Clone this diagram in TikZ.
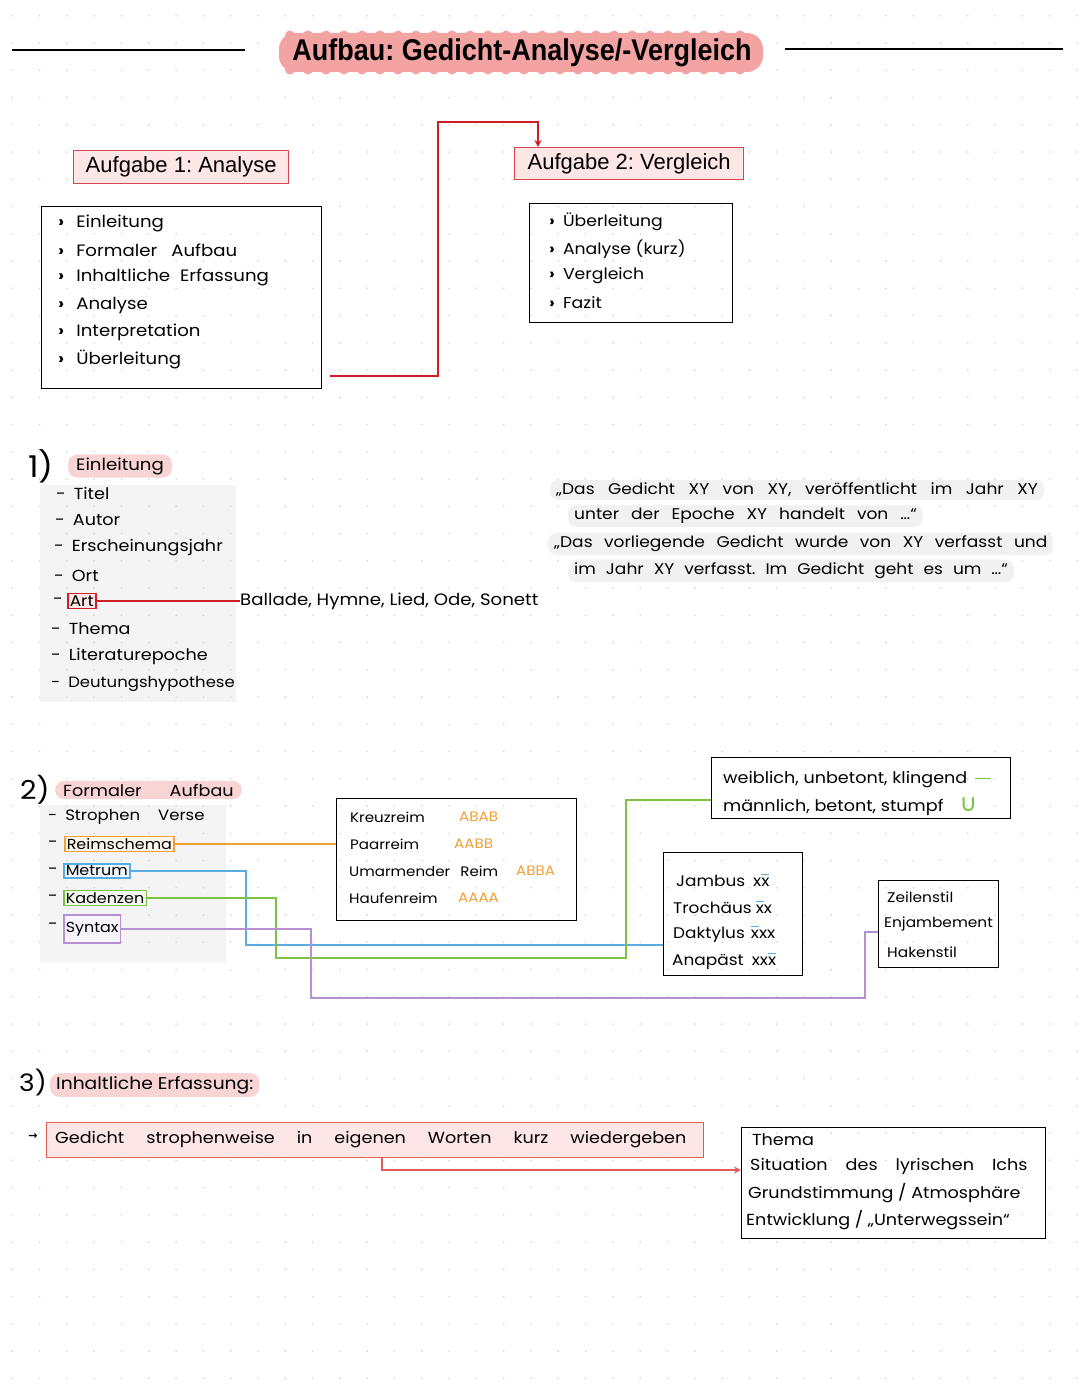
\documentclass[tikz,border=0pt]{standalone}
\usepackage{fontspec}
\setmainfont[FakeStretch=1.1]{Poppins}
\newfontfamily\arial{Liberation Sans}
\newfontfamily\titlefont[FakeStretch=0.9]{Liberation Sans}
\newfontfamily\dejavu{DejaVu Sans}
\usetikzlibrary{arrows.meta}
\frenchspacing
\definecolor{hred}{HTML}{D01E24}
\definecolor{boxred}{HTML}{D64550}
\definecolor{boxpink}{HTML}{FDE6E6}
\definecolor{hlpink}{HTML}{F9D4D4}
\definecolor{titlepink}{HTML}{F4A3A3}
\definecolor{panelgray}{HTML}{F4F4F4}
\definecolor{quotegray}{HTML}{F1F1F1}
\definecolor{corange}{HTML}{F0A136}
\definecolor{cblue}{HTML}{5AABE3}
\definecolor{cgreen}{HTML}{7DC243}
\definecolor{cpurple}{HTML}{B690D3}
\definecolor{salmon}{HTML}{E25A5A}
\definecolor{dotgray}{HTML}{D2D2D2}
\newcommand\hwsize[1]{\fontsize{#1}{#1}\selectfont}
\newcommand\wordsp[1]{\spaceskip #1pt\relax}
\newcommand\sx{\makebox[0pt][l]{\textcolor{cblue}{\rule[0.72em]{0.52em}{1.5pt}}}x}
\tikzset{
  hw/.style={font=\hwsize{16}, anchor=west, inner sep=0pt},
  lbox/.style={draw=black, line width=1.3, anchor=north west, inner sep=0pt},
  aufg/.style={draw=boxred, fill=boxpink, line width=1.3, font=\arial\fontsize{22}{24}\selectfont, inner sep=0pt, anchor=north west},
  hl/.style={fill=hlpink, rounded corners=9, inner xsep=8pt, inner ysep=3pt, anchor=west, font=\hwsize{16.5}},
  qline/.style={fill=quotegray, rounded corners=8, inner xsep=6pt, inner ysep=3pt, anchor=west, font={\hwsize{15.5}\wordsp{12}}},
  cbox/.style={line width=1.5, inner xsep=2pt, inner ysep=2pt, anchor=west, font=\hwsize{14.5}},
  cline/.style={line width=1.8}
}
\begin{document}
\begin{tikzpicture}[x=1pt,y=-1pt]
\useasboundingbox (0,0) rectangle (1080,1394);
\fill[white] (0,0) rectangle (1080,1394);
% panels
\fill[panelgray] (40,485) rectangle (236,702);
\fill[panelgray] (40,805) rectangle (226,962);
% dot grid
\foreach \i in {0,...,39} {\foreach \j in {0,...,50} {\fill[dotgray] ({12.3+27.3*\i},{15.8+27.25*\j}) circle (0.9);}}
% title
\draw[line width=2] (12,50) -- (245,50);
\draw[line width=2] (785,49) -- (1063,49);
\fill[titlepink, rounded corners=16] (279,33) rectangle (763,72);
\foreach \x in {290,308,...,756} {\fill[titlepink] (\x,35.5) circle (5); \fill[titlepink] (\x,69.5) circle (5);}
\node[font=\titlefont\bfseries\fontsize{30}{32}\selectfont, inner sep=0pt] (title) at (522,53) {Aufbau: Gedicht-Analyse/-Vergleich};
% Aufgaben
\node[aufg, minimum width=215, minimum height=33] (a1) at (73,150) {Aufgabe 1: Analyse};
\node[aufg, minimum width=229, minimum height=32] (a2) at (514,147) {Aufgabe 2: Vergleich};
\node[lbox, minimum width=280, minimum height=182] (b1) at (41,206) {};
\node[lbox, minimum width=203, minimum height=119] (b2) at (529,203) {};
\foreach \t [count=\i] in {Einleitung, Formaler\hspace{14pt}Aufbau, Inhaltliche\hspace{10pt}Erfassung, Analyse, Interpretation, Überleitung} {
  \node[hw, font=\hwsize{16.5}] (la\i) at (58,{223+27.4*(\i-1)}) {\textbf{›}\hspace{12pt}\t};
}
\foreach \t [count=\i] in {Überleitung, Analyse (kurz), Vergleich, Fazit} {
  \node[hw, font=\hwsize{15.7}] (lb\i) at (549,{222+26.8*(\i-1)}) {\textbf{›}\hspace{8pt}\t};
}
\coordinate (r0) at (330,376);
\draw[hred, line width=1.6, -{Stealth[length=7pt,width=7pt]}] (r0) -| (438,122) -| ([xshift=24pt]a2.north west);
% Section 1
\node[font=\fontsize{30}{32}\selectfont, anchor=west, inner sep=0pt] (n1) at (28,466) {1)};
\node[hl] (h1) at (68,466) {Einleitung};
\node[hw] (e1) at (56,493) {-\hspace{8pt}Titel};
\node[hw] (e2) at (55,520) {-\hspace{8pt}Autor};
\node[hw] (e3) at (54,548) {-\hspace{8pt}Erscheinungsjahr};
\node[hw] (e4) at (54,576) {-\hspace{8pt}Ort};
\node[hw] (e5) at (53,601) {-};
\node[cbox, draw=hred, fill=boxpink, font=\hwsize{15.5}] (art) at (67,601) {Art};
\node[hw, font=\hwsize{16.5}] (ball) at (240,601) {Ballade, Hymne, Lied, Ode, Sonett};
\draw[hred, line width=1.5] (art) -- (ball);
\node[hw] (e6) at (51,629) {-\hspace{8pt}Thema};
\node[hw] (e7) at (51,656) {-\hspace{8pt}Literaturepoche};
\node[hw, font=\hwsize{15}] (e8) at (51,684) {-\hspace{8pt}Deutungshypothese};
% quotes
\node[qline, font={\hwsize{15.5}\wordsp{13.5}}] (q1) at (550,490) {„Das Gedicht XY von XY, veröffentlicht im Jahr XY};
\node[qline] (q2) at (568,516) {unter der Epoche XY handelt von …“};
\node[qline, font={\hwsize{15.5}\wordsp{11.5}}] (q3) at (548,544) {„Das vorliegende Gedicht wurde von XY verfasst und};
\node[qline, font={\hwsize{15.5}\wordsp{10}}] (q4) at (568,571) {im Jahr XY verfasst. Im Gedicht geht es um …“};
% Section 2
\node[font=\fontsize{26}{28}\selectfont, anchor=west, inner sep=0pt] (n2) at (20,790) {2)};
\node[hl, font=\hwsize{16}] (h2) at (55,790) {Formaler\hspace{28pt}Aufbau};
\node[hw, font=\hwsize{15}] (f1) at (48,817) {-\hspace{8pt}Strophen\hspace{18pt}Verse};
\node[hw] (f2) at (48,844) {-};
\node[cbox, draw=corange, fill=corange!10] (reim) at (64,844) {Reimschema};
\node[hw] (f3) at (48,871) {-};
\node[cbox, draw=cblue, fill=cblue!10] (metr) at (63,871) {Metrum};
\node[hw] (f4) at (48,898) {-};
\node[cbox, draw=cgreen, fill=cgreen!10] (kad) at (63,898) {Kadenzen};
\node[hw] (f5) at (48,926) {-};
\node[cbox, draw=cpurple, fill=cpurple!10, minimum height=28] (syn) at (63,929) {Syntax};
% boxes
\node[lbox, minimum width=240, minimum height=122] (rb) at (336,798) {};
\node[lbox, minimum width=299, minimum height=61] (kb) at (711,757) {};
\node[lbox, minimum width=139, minimum height=123] (mb) at (663,852) {};
\node[lbox, minimum width=120, minimum height=87] (sb) at (878,880) {};
% Reimschema contents
\node[hw, font=\hwsize{13.7}] (rk1) at (350,817) {Kreuzreim};
\node[hw, font=\hwsize{13.7}, text=corange] (rk1c) at (459,817) {ABAB};
\node[hw, font=\hwsize{13.7}] (rk2) at (350,844) {Paarreim};
\node[hw, font=\hwsize{13.7}, text=corange] (rk2c) at (454,844) {AABB};
\node[hw, font=\hwsize{13.7}] (rk3) at (349,871) {Umarmender\hspace{10pt}Reim};
\node[hw, font=\hwsize{13.7}, text=corange] (rk3c) at (516,871) {ABBA};
\node[hw, font=\hwsize{13.7}] (rk4) at (349,898) {Haufenreim};
\node[hw, font=\hwsize{13.7}, text=corange] (rk4c) at (458,898) {AAAA};
% Kadenzen contents
\node[hw] (kd1) at (723,780) {weiblich, unbetont, klingend\hspace{8pt}\textcolor{cgreen}{\rule[0.3em]{16pt}{1.5pt}}};
\node[hw] (kd2) at (723,807) {männlich, betont, stumpf\hspace{16pt}\textcolor{cgreen}{\dejavu\hwsize{24}∪}};
% Metrum contents
\node[hw, font=\hwsize{15.4}] (m1) at (676,880) {Jambus\hspace{8pt}x\sx};
\node[hw, font=\hwsize{15.4}] (m2) at (673,907) {Trochäus\hspace{4pt}\sx x};
\node[hw, font=\hwsize{15.4}] (m3) at (673,934) {Daktylus\hspace{6pt}\sx xx};
\node[hw, font=\hwsize{15.4}] (m4) at (672,961) {Anapäst\hspace{8pt}xx\sx};
% Syntax contents
\node[hw, font=\hwsize{14}] (s1) at (887,897) {Zeilenstil};
\node[hw, font=\hwsize{14}] (s2) at (884,924) {Enjambement};
\node[hw, font=\hwsize{14}] (s3) at (887,952) {Hakenstil};
% connectors section 2
\draw[corange, cline] (reim.east) -- (rb.west |- reim.east);
\draw[cblue, cline] (metr.east) -| (246,945) -- (mb.west |- 0,945);
\draw[cgreen, cline] (kad.east) -| (276,958) -| (626,800) -- (kb.west |- 0,800);
\draw[cpurple, cline] (syn.east) -| (311,998) -| (865,932) -- (sb.west |- 0,932);
% Section 3
\node[font=\fontsize{24}{26}\selectfont, anchor=west, inner sep=0pt] (n3) at (19,1083) {3)};
\node[hl, font=\hwsize{17}, inner xsep=6pt] (h3) at (50,1085) {Inhaltliche Erfassung:};
\node[font=\dejavu\bfseries\fontsize{11}{12}\selectfont, inner sep=0pt] (arw) at (33,1137) {→};
\node[draw=salmon, fill=boxpink, line width=1.3, anchor=north west, minimum width=657, minimum height=35, inner sep=0pt] (gb) at (46,1122) {};
\node[hw, font={\hwsize{16}\wordsp{22}}] (gt) at (55,1140) {Gedicht strophenweise in eigenen Worten kurz wiedergeben};
\node[lbox, minimum width=304, minimum height=111] (tb) at (741,1127) {};
\draw[salmon, line width=1.5, -{Stealth[length=7pt,width=7pt]}] (gb.south -| 382,0) |- (tb.west |- 0,1170);
\node[hw] (t1) at (752,1140) {Thema};
\node[hw, font={\hwsize{16}\wordsp{18}}] (t2) at (750,1166) {Situation des lyrischen Ichs};
\node[hw] (t3) at (748,1193) {Grundstimmung / Atmosphäre};
\node[hw] (t4) at (746,1220) {Entwicklung / „Unterwegssein“};
\end{tikzpicture}
\end{document}
